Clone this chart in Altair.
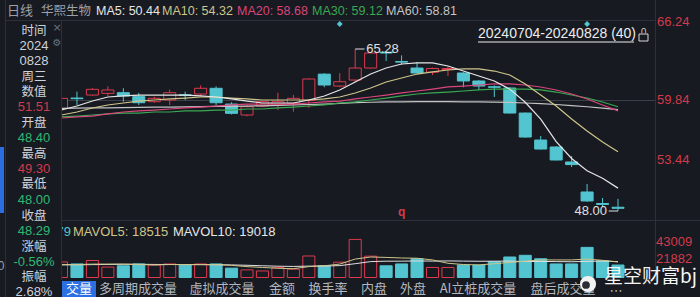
import altair as alt
import pandas as pd

# ---------------- data ----------------
opens  = [58.95, 60.05, 60.37, 60.55, 60.62, 60.20, 59.66, 59.84, 60.40, 60.48,
          61.09, 59.41, 58.24, 59.20, 59.31, 59.49, 59.80, 62.60, 61.33, 61.97,
          63.25, 64.95, 63.95, 63.25, 62.80, 63.10, 62.72, 61.87, 61.25, 61.12,
          58.45, 55.57, 54.83, 53.23, 50.03, 48.80, 48.40]
highs  = [60.30, 60.73, 61.10, 61.30, 61.10, 60.60, 60.20, 60.95, 60.73, 61.40,
          61.30, 59.60, 59.30, 59.70, 60.62, 60.37, 62.15, 62.70, 62.70, 65.28,
          64.90, 65.05, 64.60, 63.90, 63.30, 63.40, 62.80, 61.95, 61.40, 61.20,
          58.50, 56.00, 54.90, 53.87, 50.88, 49.39, 49.30]
lows   = [58.70, 59.31, 60.30, 60.27, 59.66, 59.31, 59.55, 59.31, 59.84, 60.30,
          59.30, 58.30, 58.10, 59.10, 58.77, 58.60, 59.00, 61.20, 61.20, 61.80,
          63.20, 64.00, 63.60, 62.70, 62.50, 62.40, 61.20, 60.90, 60.16, 58.40,
          55.80, 54.55, 53.40, 52.69, 49.00, 48.43, 48.00]
closes = [60.02, 59.98, 60.98, 60.91, 60.27, 59.55, 60.02, 60.62, 60.34, 61.09,
          59.55, 58.42, 59.13, 59.66, 59.66, 60.02, 62.08, 61.44, 61.79, 63.25,
          64.85, 64.85, 63.88, 62.72, 63.20, 63.20, 61.87, 61.33, 61.20, 58.45,
          55.89, 54.61, 53.44, 52.95, 49.07, 48.70, 48.29]
ma5  = [58.77, 59.20, 59.73, 60.16, 60.27, 60.37, 60.37, 60.37, 60.37, 60.27,
        60.16, 59.95, 59.73, 59.52, 59.52, 59.52, 59.84, 60.27, 60.91, 61.76,
        62.61, 63.25, 63.68, 63.79, 63.79, 63.47, 62.93, 62.40, 61.87, 61.00,
        59.60, 57.80, 55.40, 53.60, 52.30, 51.50, 50.44]
ma10 = [58.24, 58.56, 58.99, 59.31, 59.52, 59.73, 59.84, 59.95, 60.05, 60.16,
        60.16, 60.05, 59.95, 59.84, 59.84, 59.84, 59.84, 59.95, 60.16, 60.59,
        61.12, 61.76, 62.19, 62.61, 62.83, 63.04, 63.15, 63.15, 62.93, 62.51,
        61.55, 60.37, 59.20, 57.81, 56.53, 55.36, 54.32]
ma20 = [57.92, 58.03, 58.13, 58.35, 58.56, 58.67, 58.77, 58.88, 58.99, 59.09,
        59.20, 59.31, 59.41, 59.41, 59.41, 59.41, 59.52, 59.63, 59.73, 59.95,
        60.16, 60.37, 60.59, 60.80, 61.01, 61.23, 61.33, 61.44, 61.55, 61.55,
        61.44, 61.23, 60.91, 60.48, 59.95, 59.31, 58.68]
ma30 = [58.03, 58.13, 58.24, 58.35, 58.45, 58.45, 58.56, 58.56, 58.67, 58.67,
        58.77, 58.77, 58.88, 58.88, 58.99, 59.09, 59.20, 59.31, 59.52, 59.63,
        59.84, 60.05, 60.27, 60.48, 60.59, 60.69, 60.80, 60.91, 61.01, 61.01,
        61.01, 60.91, 60.69, 60.37, 60.05, 59.63, 59.12]
ma60 = [58.95, 58.97, 58.99, 59.01, 59.03, 59.05, 59.07, 59.09, 59.11, 59.13,
        59.15, 59.17, 59.19, 59.22, 59.26, 59.31, 59.36, 59.41, 59.48, 59.55,
        59.60, 59.63, 59.65, 59.66, 59.66, 59.66, 59.65, 59.64, 59.62, 59.58,
        59.52, 59.45, 59.36, 59.25, 59.12, 58.97, 58.81]
volume = [18600, 16200, 20300, 12400, 14000, 16200, 14900, 16200, 14900, 16200,
          16200, 11200, 9100, 7800, 12000, 9900, 25700, 14000, 18300, 45500,
          25500, 14000, 16200, 22400, 12000, 12000, 14900, 14900, 19000, 24500,
          26500, 22400, 16200, 16200, 36000, 20000, 14900]
mavol5 = [15500, 15500, 16000, 16000, 16000, 15500, 15000, 15500, 15500, 15500,
          15500, 14500, 13000, 12000, 11000, 10500, 13000, 14000, 16000, 22000,
          24500, 24000, 23300, 23000, 21000, 17000, 15500, 15000, 16500, 18000,
          19500, 21000, 21000, 21000, 22000, 20500, 18515]
mavol10 = [15000, 15200, 15400, 15600, 15800, 15800, 15600, 15500, 15400, 15300,
           15200, 15000, 14600, 14000, 13500, 13200, 13600, 13700, 14200, 16500,
           19000, 19500, 19500, 19800, 19600, 19800, 19600, 19400, 19500, 19600,
           19000, 19200, 19000, 18800, 19300, 19600, 19018]
price_top_tick = [66.24]
price_ticks = [59.84, 53.44]
vol_ticks = [43009, 21882]
info_labels = ["时间", "2024", "0828", "周三", "数值", "51.51", "开盘", "48.40", "最高",
               "49.30", "最低", "48.00", "收盘", "48.29", "涨幅", "-0.56%", "振幅", "2.68%"]
tabs = ["交量", "多周期成交量", "虚拟成交量", "金额", "换手率", "内盘", "外盘", "AI立桩成交量", "盘后成交量"]

# ---------------- style ----------------
BG = "#171a21"
LINE = "#2c3039"
RED = "#dc3a4e"
CYAN = "#52c5d0"
GREEN_T = "#2fb873"
RED_T = "#d23a4b"
LIGHT = "#cfd2d8"
GRAYT = "#9ca1aa"
C5, C10, C20, C30, C60 = "#e6e6e6", "#cfc58a", "#d8467a", "#3aa852", "#c4c4c4"
CJK = "Noto Sans CJK SC"
NUM = "Liberation Sans"

XS = alt.Scale(domain=[0, 36], range=[61.5, 618], nice=False, zero=False)
YS = alt.Scale(domain=[53.44, 59.84], range=[160, 100], nice=False, zero=False)
VS = alt.Scale(domain=[0, 43009], range=[277.5, 241.5], nice=False, zero=False)

n = len(opens)
df = pd.DataFrame({
    "i": list(range(n)), "o": opens, "h": highs, "l": lows, "c": closes,
    "ma5": ma5, "ma10": ma10, "ma20": ma20, "ma30": ma30, "ma60": ma60,
    "vol": volume, "mv5": mavol5, "mv10": mavol10,
})
df["up"] = df["c"] >= df["o"]
df["col"] = df["up"].map({True: RED, False: CYAN})
df["fill"] = df["up"].map({True: BG, False: CYAN})
df["top"] = df[["o", "c"]].max(axis=1)
df["bot"] = df[["o", "c"]].min(axis=1)

def X(f):
    return alt.X(f, type="quantitative", scale=XS, axis=None)

def Y(f):
    return alt.Y(f, type="quantitative", scale=YS, axis=None)

def V(f):
    return alt.Y(f, type="quantitative", scale=VS, axis=None)

one = pd.DataFrame({"a": [0]})

def txt(s, x, y, color, size=12, align="left", font=NUM, weight="normal"):
    return alt.Chart(one).mark_text(text=s, align=align, baseline="middle", fontSize=size,
                                    font=font, color=color, fontWeight=weight).encode(
        x=alt.value(x), y=alt.value(y))

def hline(x1, x2, y, color=LINE, w=1):
    return alt.Chart(one).mark_rule(color=color, strokeWidth=w).encode(
        x=alt.value(x1), x2=alt.value(x2), y=alt.value(y))

def vline(x, y1, y2, color=LINE, w=1):
    return alt.Chart(one).mark_rule(color=color, strokeWidth=w).encode(
        x=alt.value(x), y=alt.value(y1), y2=alt.value(y2))

def box(x1, x2, y1, y2, fill, stroke=None):
    kw = {"fill": fill}
    if stroke:
        kw["stroke"] = stroke
        kw["strokeWidth"] = 1
    return alt.Chart(one).mark_rect(**kw).encode(
        x=alt.value(x1), x2=alt.value(x2), y=alt.value(y1), y2=alt.value(y2))

layers = []
# frame lines
layers += [vline(655.5, 0, 281), hline(61, 700, 220.5),
           vline(5.5, 0, 297), hline(61, 655, 100.5, "#3a3e47")]

base = alt.Chart(df)
# wicks
layers.append(base.mark_rule(strokeWidth=1).encode(
    x=X("i"), y=Y("l"), y2="h", color=alt.Color("col:N", scale=None)))
# bodies
layers.append(base.transform_calculate(x0="datum.i - 0.39", x1="datum.i + 0.39").mark_rect(
    strokeWidth=1).encode(
    x=X("x0"), x2="x1", y=Y("bot"), y2="top",
    fill=alt.Fill("fill:N", scale=None), stroke=alt.Stroke("col:N", scale=None)))
# MA lines
for f, c in [("ma60", C60), ("ma30", C30), ("ma20", C20), ("ma10", C10), ("ma5", C5)]:
    layers.append(base.mark_line(color=c, strokeWidth=1.2).encode(x=X("i"), y=Y(f)))
# volume bars
layers.append(base.transform_calculate(x0="datum.i - 0.39", x1="datum.i + 0.39", v0="0").mark_rect(
    strokeWidth=1).encode(
    x=X("x0"), x2="x1", y=V("vol"), y2="v0:Q",
    fill=alt.Fill("fill:N", scale=None), stroke=alt.Stroke("col:N", scale=None)))
for f, c in [("mv10", "#e0e0e0"), ("mv5", C10)]:
    layers.append(base.mark_line(color=c, strokeWidth=1).encode(x=X("i"), y=V(f)))

# annotations on the price panel
hi = pd.DataFrame({"i": [19], "p": [65.28], "t": ["65.28"]})
lo = pd.DataFrame({"i": [36], "p": [48.00], "t": ["48.00"]})
layers.append(alt.Chart(hi).transform_calculate(i2="datum.i + 0.6").mark_rule(color="#e0e0e0").encode(
    x=X("i"), x2="i2", y=Y("p")))
layers.append(alt.Chart(hi).mark_text(align="left", baseline="middle", dx=11, fontSize=13,
                                      font=NUM, color="#e0e0e0").encode(x=X("i"), y=Y("p"), text="t"))
layers.append(alt.Chart(lo).transform_calculate(i2="datum.i - 0.6").mark_rule(color="#e0e0e0").encode(
    x=X("i"), x2="i2", y=Y("p")))
layers.append(alt.Chart(lo).mark_text(align="right", baseline="middle", dx=-11, fontSize=13,
                                      font=NUM, color="#e0e0e0").encode(x=X("i"), y=Y("p"), text="t"))
mk = pd.DataFrame({"i": [18, 34]})
layers.append(alt.Chart(mk).mark_point(shape="diamond", filled=True, size=35, color=CYAN, opacity=1).encode(
    x=X("i"), y=alt.value(24)))
qd = pd.DataFrame({"i": [22]})
layers.append(alt.Chart(qd).mark_text(text="q", fontSize=12, font=NUM, fontWeight="bold", color=RED_T,
                                      baseline="middle").encode(x=X("i"), y=alt.value(212)))

# range label
layers.append(txt("20240704-20240828 (40)", 478, 34, "#ececec", 14))
layers.append(hline(478, 634, 42, "#ececec"))
layers.append(box(639, 648, 34, 41, BG, "#d8d8d8"))
layers.append(txt("∩", 643.5, 30, "#d8d8d8", 9, "center", "DejaVu Sans"))

# volume title
layers.append(txt("VOL: 15279", 71, 232, CYAN, 13, "right"))
layers.append(txt("MAVOL5: 18515", 73, 232, C10, 13))
layers.append(txt("MAVOL10: 19018", 173, 232, "#e6e6e6", 13))

# left info panel (drawn over the plot)
layers.append(box(0, 61, 21, 280, BG))
layers.append(vline(61.5, 21, 280))
layers.append(vline(5.5, 21, 297))
layers.append(box(0, 4, 147, 213, "#2a6ee0"))
info_y = [31, 46, 61, 77, 92, 107, 123, 138, 154, 169, 184, 200, 216, 231, 247, 262, 277, 292]
info_c = [LIGHT, LIGHT, LIGHT, LIGHT, LIGHT, RED_T, LIGHT, GREEN_T, LIGHT, RED_T, LIGHT, GREEN_T,
          LIGHT, GREEN_T, LIGHT, GREEN_T, LIGHT, LIGHT]
for s, y, c in zip(info_labels, info_y, info_c):
    f = CJK if any(ord(ch) > 255 for ch in s) else NUM
    layers.append(txt(s, 34, y, c, 12.5 if f == CJK else 13, "center", f))
layers.append(txt("×", 57, 28, "#6b7079", 11, "center", "DejaVu Sans"))
layers.append(txt("⚙", 57, 43, "#6b7079", 10, "center", "DejaVu Sans"))
layers.append(txt("0", 1, 266, GRAYT, 12, "center"))

# title bar
layers.append(box(6, 655, 0, 20, BG))
layers.append(txt("日线", 7, 11, GRAYT, 13, "left", CJK))
layers.append(txt("华熙生物", 41, 11, GRAYT, 12.5, "left", CJK))
layers.append(txt("MA5: 50.44", 96, 11, C5, 12.5))
layers.append(txt("MA10: 54.32", 162, 11, C10, 12.5))
layers.append(txt("MA20: 58.68", 237, 11, C20, 12.5))
layers.append(txt("MA30: 59.12", 312, 11, C30, 12.5))
layers.append(txt("MA60: 58.81", 386, 11, C60, 12.5))
layers.append(hline(5, 655, 20.5))

# right axis labels
pt_top = pd.DataFrame({"p": price_top_tick, "t": [f"{v:.2f}" for v in price_top_tick]})
layers.append(alt.Chart(pt_top).mark_text(align="left", baseline="middle", dy=-18, fontSize=13,
                                          font=NUM, color=RED_T).encode(
    x=alt.value(657), y=Y("p"), text="t"))
pt = pd.DataFrame({"p": price_ticks, "t": [f"{v:.2f}" for v in price_ticks]})
layers.append(alt.Chart(pt).mark_text(align="left", baseline="middle", fontSize=13,
                                      font=NUM, color=RED_T).encode(
    x=alt.value(657), y=Y("p"), text="t"))
vt = pd.DataFrame({"v": vol_ticks, "t": [str(v) for v in vol_ticks]})
layers.append(alt.Chart(vt).mark_text(align="left", baseline="middle", fontSize=13, font=NUM,
                                      color=RED_T).encode(x=alt.value(656), y=V("v"), text="t"))

# tab bar
layers.append(box(62, 96, 281, 297, "#2b6fe3"))
tab_x = [79, 138, 222, 282, 328, 374, 413, 478, 563]
for k, (s, x) in enumerate(zip(tabs, tab_x)):
    layers.append(txt(s, x, 289, "#ffffff" if k == 0 else "#b3b7bf", 13, "center", CJK))
layers.append(txt("⋯", 616, 291, "#b3b7bf", 13, "center", "DejaVu Sans"))

# watermark
layers.append(alt.Chart(one).mark_point(shape="circle", filled=True, size=260, color="#f2f2f2", opacity=1).encode(
    x=alt.value(588), y=alt.value(284)))
layers.append(alt.Chart(one).mark_point(shape="circle", filled=True, size=60, color="#2a2d33", opacity=1).encode(
    x=alt.value(586), y=alt.value(285)))
layers.append(txt("星空财富bj", 604, 277, "#f4f4f4", 19, "left", CJK))

chart = alt.layer(*layers).resolve_scale(x="independent", y="independent").properties(
    width=700, height=297, background=BG, padding=0,
    autosize=alt.AutoSizeParams(type="none"),
).configure_view(stroke=None)

chart.save("out.html", embed_options={"renderer": "svg", "actions": False})
